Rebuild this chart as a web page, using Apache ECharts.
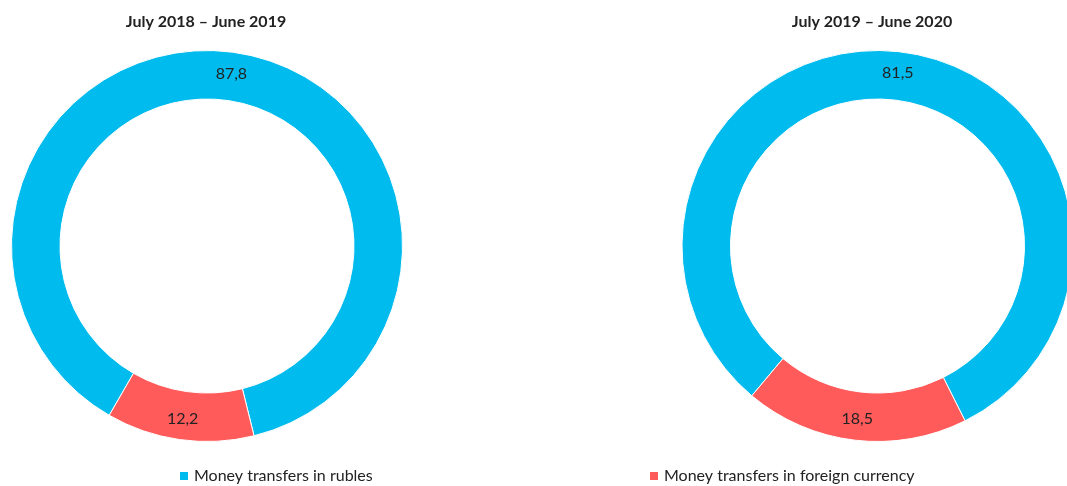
<!DOCTYPE html>
<html>
<head>
<meta charset="utf-8">
<script src="https://cdn.jsdelivr.net/npm/echarts@6/dist/echarts.min.js"></script>
<style>
html,body{margin:0;padding:0;background:#fff;}
#chart{width:1067px;height:486px;}
</style>
</head>
<body>
<div id="chart"></div>
<script>
const categories = ['Money transfers in rubles', 'Money transfers in foreign currency'];
const periods = ['July 2018 – June 2019', 'July 2019 – June 2020'];
const values2019 = [87.8, 12.2];
const values2020 = [81.5, 18.5];
const colors = ['#00BBEE', '#FF5B5B'];

const chart = echarts.init(document.getElementById('chart'));
const font = 'Lato';
function mk(vals) {
  return categories.map((c, i) => ({ name: c, value: vals[i] }));
}
function fmt(p) { return String(p.value).replace('.', ','); }
const titleStyle = { fontFamily: font, fontWeight: 'bold', fontSize: 16, color: '#222' };
const legendBase = { icon: 'rect', itemWidth: 10, itemHeight: 10, padding: 0, top: 468,
  textStyle: { fontFamily: font, fontSize: 16, color: '#222' } };
const option = {
  animation: false,
  color: colors,
  textStyle: { fontFamily: font },
  title: [
    { text: periods[0], left: 206, top: 14, padding: 0, textAlign: 'center', textStyle: titleStyle },
    { text: periods[1], left: 872, top: 14, padding: 0, textAlign: 'center', textStyle: titleStyle }
  ],
  legend: [
    Object.assign({ data: [categories[0]], left: 178 }, legendBase),
    Object.assign({ data: [categories[1]], left: 648 }, legendBase)
  ],
  series: [
    { type: 'pie', center: [207, 246], radius: [147, 195.5], startAngle: -120, clockwise: true,
      data: mk(values2019), itemStyle: { borderColor: '#fff', borderWidth: 1 },
      label: { position: 'inside', formatter: fmt, fontFamily: font, fontSize: 16, color: '#222' },
      labelLine: { show: false }, emphasis: { disabled: true } },
    { type: 'pie', center: [877.5, 246], radius: [147, 195.5], startAngle: -130, clockwise: true,
      data: mk(values2020), itemStyle: { borderColor: '#fff', borderWidth: 1 },
      label: { position: 'inside', formatter: fmt, fontFamily: font, fontSize: 16, color: '#222' },
      labelLine: { show: false }, emphasis: { disabled: true } }
  ]
};
chart.setOption(option);
</script>
</body>
</html>
